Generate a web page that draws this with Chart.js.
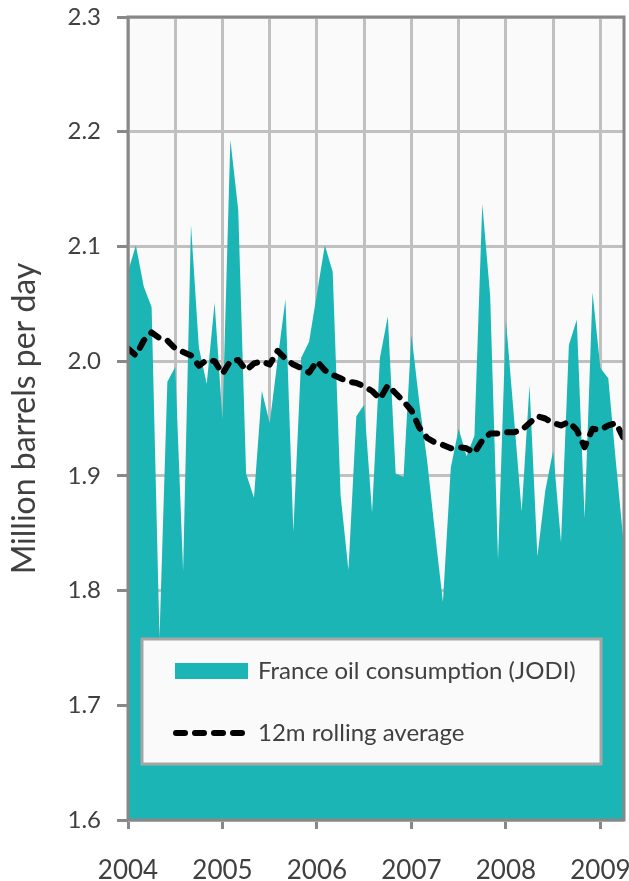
<!DOCTYPE html>
<html>
<head>
<meta charset="utf-8">
<script src="https://cdn.jsdelivr.net/npm/chart.js@4/dist/chart.umd.min.js"></script>
<style>
  body { margin: 0; background: #fff; }
  canvas { display: block; }
</style>
</head>
<body>
<canvas id="oilChart" width="629" height="881"></canvas>
<script>
// Monthly data, Jan 2004 .. Apr 2009 (index = months since Jan 2004)
const yearLabels = ["2004", "2005", "2006", "2007", "2008", "2009"];
const yTicks = [1.6, 1.7, 1.8, 1.9, 2.0, 2.1, 2.2, 2.3];

const consumption = [
  2.078, 2.101, 2.065, 2.047, 1.759, 1.982, 1.995, 1.817, 2.119, 2.012, 1.980, 2.051,
  1.949, 2.193, 2.132, 1.902, 1.881, 1.974, 1.946, 2.001, 2.054, 1.851, 2.003, 2.017,
  2.059, 2.101, 2.078, 1.883, 1.818, 1.952, 1.962, 1.868, 2.003, 2.039, 1.902, 1.899,
  2.023, 1.964, 1.913, 1.850, 1.790, 1.907, 1.941, 1.917, 1.935, 2.137, 2.057, 1.827,
  2.036, 1.953, 1.869, 1.979, 1.830, 1.887, 1.922, 1.842, 2.014, 2.036, 1.863, 2.060,
  1.994, 1.985, 1.910, 1.838
];

const rollingAvg = [
  2.011, 2.005, 2.018, 2.025, 2.020, 2.018, 2.011, 2.008, 2.005, 1.996, 2.001, 2.000,
  1.989, 2.000, 2.001, 1.992, 1.998, 2.000, 1.997, 2.009, 2.002, 1.997, 1.994, 1.990,
  2.000, 1.992, 1.988, 1.985, 1.982, 1.981, 1.978, 1.974, 1.967, 1.979, 1.972, 1.965,
  1.957, 1.942, 1.933, 1.929, 1.927, 1.924, 1.925, 1.924, 1.920, 1.931, 1.937, 1.937,
  1.938, 1.938, 1.940, 1.946, 1.952, 1.950, 1.946, 1.944, 1.947, 1.940, 1.925, 1.941,
  1.940, 1.944, 1.946, 1.932
];

const TEAL = "#1BB5B5";
const AXIS = "#888888";
const GRID = "#C0C0C0";
const TEXT = "#404040";
const FONT = "Lato";

const toPoints = arr => arr.map((v, i) => ({ x: i, y: v }));

// half-year gridlines, labels on whole years
const monthTicks = [];
for (let m = 0; m < consumption.length; m += 6) monthTicks.push(m);

// plot background
const plotBackground = {
  id: "plotBackground",
  beforeDraw(chart) {
    const { ctx, chartArea: a } = chart;
    ctx.save();
    ctx.fillStyle = "#FAFAFA";
    ctx.fillRect(a.left, a.top, a.right - a.left, a.bottom - a.top);
    ctx.restore();
  }
};

// frame round the plot area, on top of the fill
const plotFrame = {
  id: "plotFrame",
  afterDatasetsDraw(chart) {
    const { ctx, chartArea: a } = chart;
    ctx.save();
    ctx.strokeStyle = AXIS;
    ctx.lineWidth = 3;
    ctx.strokeRect(a.left, a.top, a.right - a.left, a.bottom - a.top);
    ctx.restore();
  }
};

// boxed legend inside the plot
const boxLegend = {
  id: "boxLegend",
  afterDraw(chart) {
    const { ctx } = chart;
    const ds = chart.data.datasets;
    ctx.save();
    ctx.fillStyle = "#FAFAFA";
    ctx.fillRect(142, 639, 459, 125);
    ctx.strokeStyle = "#A6A6A6";
    ctx.lineWidth = 3;
    ctx.strokeRect(142, 639, 459, 125);

    ctx.fillStyle = ds[0].backgroundColor;
    ctx.fillRect(175, 663, 73, 16);

    ctx.strokeStyle = ds[1].borderColor;
    ctx.lineWidth = 6;
    ctx.lineCap = "round";
    ctx.setLineDash(ds[1].borderDash);
    ctx.beginPath();
    ctx.moveTo(176, 733);
    ctx.lineTo(247, 733);
    ctx.stroke();
    ctx.setLineDash([]);

    ctx.fillStyle = TEXT;
    ctx.font = "24px " + FONT;
    ctx.textBaseline = "middle";
    ctx.fillText(ds[0].label, 258, 671);
    ctx.fillText(ds[1].label, 258, 733);
    ctx.restore();
  }
};

const ctx = document.getElementById("oilChart").getContext("2d");
const oilChart = new Chart(ctx, {
  type: "line",
  data: {
    datasets: [
      {
        label: "France oil consumption (JODI)",
        data: toPoints(consumption),
        backgroundColor: TEAL,
        borderWidth: 0,
        pointRadius: 0,
        fill: "start",
        tension: 0,
        order: 2
      },
      {
        label: "12m rolling average",
        data: toPoints(rollingAvg),
        borderColor: "#000000",
        borderWidth: 6,
        borderDash: [9, 10],
        borderCapStyle: "round",
        borderJoinStyle: "round",
        pointRadius: 0,
        fill: false,
        tension: 0,
        order: 1
      }
    ]
  },
  options: {
    responsive: false,
    animation: false,
    layout: { padding: { top: 17, right: 5, left: 0, bottom: 0 } },
    plugins: {
      legend: { display: false },
      tooltip: { enabled: false }
    },
    scales: {
      x: {
        type: "linear",
        min: 0,
        max: consumption.length - 1,
        afterFit: s => {
          s.height = 61;
          s.paddingLeft = 0;
          s.paddingRight = 0;
        },
        afterBuildTicks: s => { s.ticks = monthTicks.map(v => ({ value: v })); },
        border: { display: false },
        grid: {
          color: GRID,
          lineWidth: 3,
          tickLength: 9,
          tickWidth: 3,
          tickColor: c => (c.tick && c.tick.value % 12 === 0 ? AXIS : "rgba(0,0,0,0)")
        },
        ticks: {
          autoSkip: false,
          maxRotation: 0,
          padding: 26,
          color: TEXT,
          font: { family: FONT, size: 26 },
          callback: v => (v % 12 === 0 ? yearLabels[v / 12] : "")
        }
      },
      y: {
        min: yTicks[0],
        max: yTicks[yTicks.length - 1],
        afterFit: s => {
          s.width = 128;
          s.paddingTop = 0;
          s.paddingBottom = 0;
        },
        afterBuildTicks: s => { s.ticks = yTicks.map(v => ({ value: v })); },
        border: { display: false },
        grid: {
          color: GRID,
          lineWidth: 3,
          tickLength: 11,
          tickWidth: 3,
          tickColor: AXIS
        },
        ticks: {
          padding: 16,
          color: TEXT,
          font: { family: FONT, size: 24 },
          callback: v => v.toFixed(1)
        },
        title: {
          display: true,
          text: "Million barrels per day",
          color: TEXT,
          font: { family: FONT, size: 32 },
          padding: { top: 5, bottom: 0 }
        }
      }
    }
  },
  plugins: [plotBackground, plotFrame, boxLegend]
});
</script>
</body>
</html>
